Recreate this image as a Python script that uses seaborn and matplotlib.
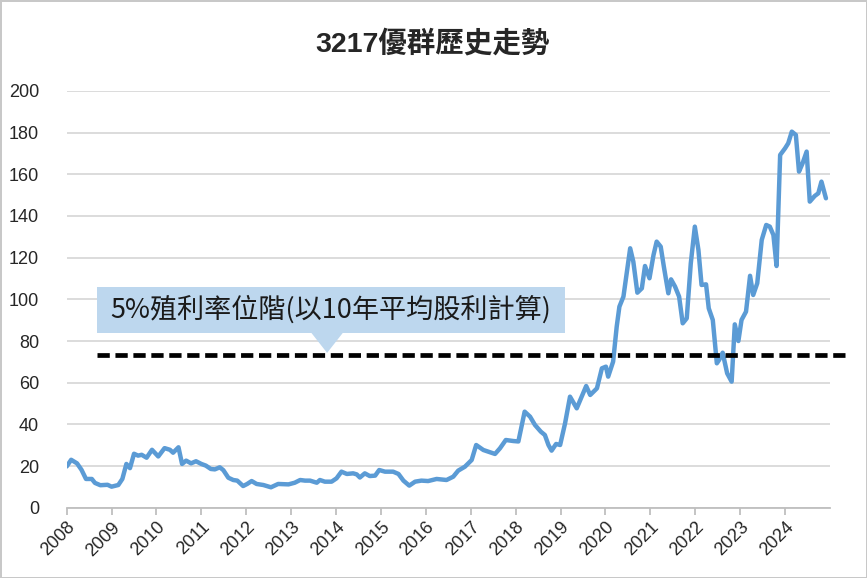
import matplotlib
matplotlib.use('Agg')
import matplotlib.pyplot as plt
from matplotlib.patches import Rectangle, Polygon
import seaborn as sns

# price history (decimal year, price)
years = [2008.00, 2008.10, 2008.23, 2008.33, 2008.43, 2008.56, 2008.63, 2008.75, 2008.91,
         2009.00, 2009.15, 2009.24, 2009.33, 2009.41, 2009.50, 2009.59, 2009.67, 2009.78, 2009.90,
         2010.04, 2010.18, 2010.30, 2010.37, 2010.49, 2010.57, 2010.66, 2010.77, 2010.88,
         2011.00, 2011.10, 2011.21, 2011.30, 2011.41, 2011.49, 2011.60, 2011.71, 2011.80, 2011.93,
         2012.02, 2012.12, 2012.23, 2012.38, 2012.55, 2012.71, 2012.94,
         2013.08, 2013.20, 2013.31, 2013.42, 2013.57, 2013.64, 2013.75, 2013.90,
         2014.01, 2014.12, 2014.24, 2014.38, 2014.46, 2014.53, 2014.64, 2014.75, 2014.87, 2014.96,
         2015.09, 2015.27, 2015.39, 2015.50, 2015.63, 2015.76, 2015.90,
         2016.05, 2016.24, 2016.46, 2016.61, 2016.72, 2016.87,
         2017.02, 2017.12, 2017.28, 2017.39, 2017.54, 2017.65, 2017.78, 2017.95,
         2018.06, 2018.20, 2018.32, 2018.43, 2018.56, 2018.65, 2018.73, 2018.80, 2018.90, 2018.99,
         2019.10, 2019.21, 2019.36, 2019.57, 2019.66, 2019.81, 2019.92,
         2020.01, 2020.06, 2020.17, 2020.25, 2020.31, 2020.40, 2020.55, 2020.62, 2020.71, 2020.81,
         2020.88, 2020.98,
         2021.07, 2021.14, 2021.23, 2021.30, 2021.40, 2021.46, 2021.55, 2021.64, 2021.72, 2021.81,
         2021.90, 2021.99,
         2022.07, 2022.14, 2022.24, 2022.30, 2022.39, 2022.48, 2022.53, 2022.61, 2022.71, 2022.81,
         2022.88, 2022.96,
         2023.03, 2023.13, 2023.22, 2023.29, 2023.38, 2023.48, 2023.58, 2023.66, 2023.74, 2023.81,
         2023.89,
         2024.00, 2024.07, 2024.15, 2024.24, 2024.31, 2024.39, 2024.48, 2024.55, 2024.66, 2024.74,
         2024.81, 2024.91]
price = [19.8, 23.0, 21.3, 18.2, 13.8, 13.8, 11.9, 10.8, 11.0,
         10.1, 10.9, 13.8, 21.0, 19.0, 25.9, 25.0, 25.4, 24.0, 27.8,
         24.6, 28.6, 27.8, 26.4, 29.0, 21.0, 22.6, 21.3, 22.3,
         21.0, 20.2, 18.6, 18.4, 19.4, 18.0, 14.4, 13.3, 13.0, 10.4,
         11.4, 12.8, 11.4, 10.9, 9.8, 11.4, 11.2,
         12.0, 13.3, 13.0, 13.0, 12.0, 13.3, 12.5, 12.5,
         14.1, 17.3, 16.2, 16.5, 16.0, 14.5, 16.5, 15.2, 15.4, 18.1,
         17.3, 17.3, 16.2, 13.0, 10.6, 12.5, 13.0,
         12.8, 13.8, 13.3, 14.9, 17.8, 19.7,
         22.9, 30.1, 27.7, 26.9, 25.8, 28.5, 32.5, 32.0,
         31.8, 46.1, 43.7, 39.7, 36.5, 34.9, 30.1, 27.4, 30.6, 30.1,
         40.5, 53.3, 47.7, 58.4, 54.1, 57.3, 66.9,
         67.7, 62.9, 70.1, 86.9, 96.5, 101.3, 124.5, 118.1, 103.2, 105.3,
         116.0, 110.1,
         121.3, 127.7, 125.3, 115.7, 102.9, 109.6, 106.1, 101.3, 88.5, 90.9,
         117.3, 134.9,
         123.7, 106.9, 107.2, 95.7, 90.1, 69.3, 70.9, 74.4, 64.5, 60.5,
         88.0, 80.0,
         90.1, 94.1, 111.3, 102.1, 107.7, 128.5, 135.7, 134.9, 130.9, 116.0,
         169.3,
         172.5, 174.9, 180.5, 178.9, 161.3, 165.3, 170.9, 146.9, 149.6, 150.9,
         156.5, 148.5]

year_ticks = list(range(2008, 2025))
y_ticks = list(range(0, 201, 20))
yield_level = 73.5
title = '3217優群歷史走勢'
callout = '5%殖利率位階(以10年平均股利計算)'

sns.set_theme(style='white')
plt.rcParams['font.family'] = ['Liberation Sans', 'Noto Sans CJK TC', 'DejaVu Sans']

fig, ax = plt.subplots(figsize=(8.67, 5.78), dpi=100)
fig.subplots_adjust(left=0.0769, right=0.9573, bottom=0.1216, top=0.8426)
fig.patch.set_edgecolor('#c8c8c8')
fig.patch.set_linewidth(2)

sns.lineplot(x=years, y=price, ax=ax, color='#5B9BD5', linewidth=3.2,
             estimator=None, sort=False, zorder=3)

ax.set_xlim(2008, 2025)
ax.set_ylim(0, 200)
ax.set_xticks(year_ticks)
ax.set_xticklabels([str(y) for y in year_ticks], rotation=45, ha='right',
                   rotation_mode='anchor', fontsize=13)
ax.set_yticks(y_ticks)
ax.set_yticklabels([str(v) for v in y_ticks], fontsize=13)
ax.grid(axis='y', color='#d9d9d9', linewidth=1.3)
ax.set_axisbelow(True)
for s in ['left', 'right', 'top']:
    ax.spines[s].set_visible(False)
ax.spines['bottom'].set_color('#bfbfbf')
ax.spines['bottom'].set_linewidth(1.3)
ax.tick_params(axis='x', bottom=True, length=5, color='#bfbfbf', width=1.3, pad=3)
ax.tick_params(axis='y', left=False, pad=14)
ax.set_xlabel('')
ax.set_ylabel('')

# 5% yield level
ax.plot([2008.68, 2025.45], [yield_level, yield_level], color='black', linewidth=3.4,
        linestyle=(0, (2.6, 1.2)), clip_on=False, zorder=4)

# callout box with arrow
box_x0, box_x1, box_y0, box_y1 = 2008.68, 2019.1, 83.9, 106.0
ax.add_patch(Rectangle((box_x0, box_y0), box_x1 - box_x0, box_y1 - box_y0,
                       facecolor='#bdd7ee', edgecolor='none', zorder=2))
ax.add_patch(Polygon([(2013.45, box_y0), (2014.15, box_y0), (2013.8, yield_level + 0.8)],
                     closed=True, facecolor='#bdd7ee', edgecolor='none', zorder=2))
ax.text((box_x0 + box_x1) / 2, (box_y0 + box_y1) / 2, callout, ha='center', va='center',
        fontsize=19.5, family=['Noto Sans CJK TC', 'DejaVu Sans'], color='#1a1a1a', zorder=5)

fig.text(0.499, 1 - 44 / 578, title, ha='center', va='center', fontsize=20.5,
         fontweight='bold', family=['Liberation Sans', 'Noto Sans CJK TC'])

fig.savefig('out.png', dpi=100)
